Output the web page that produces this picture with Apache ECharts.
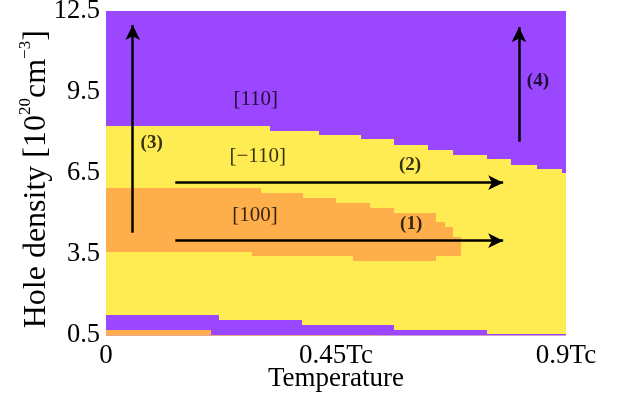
<!DOCTYPE html>
<html><head><meta charset="utf-8">
<script src="https://cdn.jsdelivr.net/npm/echarts@6/dist/echarts.min.js"></script>
<style>html,body{margin:0;padding:0;background:#fff}#c{width:622px;height:398px}</style>
</head><body><div id="c"></div>
<script>
// ---- axis ticks ----
const xTickValues = [0, 0.45, 0.9];
const xTickLabels = ['0', '0.45Tc', '0.9Tc'];
const yTickValues = [0.5, 3.5, 6.5, 9.5, 12.5];
const yTickLabels = ['0.5', '3.5', '6.5', '9.5', '12.5'];

// ---- phase boundaries (step functions; y value holds between consecutive x breakpoints) ----
// upper boundary between [-110] (yellow) and [110] (purple)
const upperX = [0, 0.32, 0.417, 0.499, 0.564, 0.63, 0.678, 0.745, 0.792, 0.843, 0.892, 0.9];
const upperY = [8.25, 8.06, 7.91, 7.76, 7.55, 7.36, 7.18, 7.03, 6.81, 6.66, 6.51];
// [100] (orange) pocket: top and bottom boundaries
const midTopX = [0, 0.303, 0.385, 0.45, 0.5165, 0.564, 0.6457, 0.663, 0.6795, 0.694];
const midTopY = [5.94, 5.76, 5.57, 5.39, 5.20, 5.02, 4.69, 4.50, 4.13];
const midBotX = [0, 0.285, 0.483, 0.6457, 0.694];
const midBotY = [3.60, 3.44, 3.26, 3.44];
// low-density purple strip top
const lowPurpleX = [0, 0.221, 0.3835, 0.564, 0.745, 0.9];
const lowPurpleY = [1.26, 1.07, 0.89, 0.70, 0.54];
// low-density orange strip top
const lowOrangeX = [0, 0.205, 0.53];
const lowOrangeY = [0.70, 0.53];

// ---- arrows ----
const arrowFromX = [0.1356, 0.1356, 0.0522, 0.808];
const arrowFromY = [4.006, 6.151, 4.30, 7.667];
const arrowToX   = [0.777, 0.777, 0.0522, 0.808];
const arrowToY   = [4.006, 6.151, 11.98, 11.90];

// ---- text labels ----
const labelNames = ['[110]', '[\u2212110]', '[100]', '(1)', '(2)', '(3)', '(4)'];
const labelX = [0.293, 0.297, 0.2915, 0.597, 0.595, 0.0894, 0.845];
const labelY = [9.246, 7.138, 4.956, 4.623, 6.805, 7.619, 9.90];

const phaseColor = { yellow: '#ffec52', purple: '#9a47ff', orange: '#ffae4c' };

function stepAt(xs, ys, x) {
  for (let i = 0; i < ys.length; i++) if (x >= xs[i] && x < xs[i + 1]) return ys[i];
  return ys[ys.length - 1];
}
const rects = [];
rects.push([0, 0.9, 0.5, 12.5, 'yellow']);
for (let i = 0; i < upperY.length; i++) rects.push([upperX[i], upperX[i + 1], upperY[i], 12.5, 'purple']);
const bx = Array.from(new Set(midTopX.concat(midBotX))).sort((a, b) => a - b);
for (let j = 0; j < bx.length - 1; j++) {
  const m = (bx[j] + bx[j + 1]) / 2;
  rects.push([bx[j], bx[j + 1], stepAt(midBotX, midBotY, m), stepAt(midTopX, midTopY, m), 'orange']);
}
for (let i = 0; i < lowPurpleY.length; i++) rects.push([lowPurpleX[i], lowPurpleX[i + 1], 0.5, lowPurpleY[i], 'purple']);
for (let i = 0; i < lowOrangeY.length; i++) rects.push([lowOrangeX[i], lowOrangeX[i + 1], 0.5, lowOrangeY[i], 'orange']);

const serif = 'Liberation Serif';
const chart = echarts.init(document.getElementById('c'), null, { renderer: 'canvas' });
chart.setOption({
  animation: false,
  backgroundColor: '#fff',
  grid: { left: 106, right: 56, top: 11, bottom: 62.5, containLabel: false, outerBoundsMode: 'none' },
  xAxis: {
    type: 'value', min: 0, max: 0.9,
    name: 'Temperature', nameLocation: 'middle', nameGap: 30, nameMoveOverlap: false,
    nameTextStyle: { fontFamily: serif, fontSize: 27, color: '#000' },
    axisLine: { show: false }, axisTick: { show: false }, splitLine: { show: false },
    axisLabel: {
      customValues: xTickValues, margin: 7,
      fontFamily: serif, fontSize: 27, color: '#000',
      formatter: v => { const i = xTickValues.findIndex(t => Math.abs(t - v) < 1e-9); return i >= 0 ? xTickLabels[i] : ''; }
    }
  },
  yAxis: {
    type: 'value', min: 0.5, max: 12.5,
    name: 'Hole density [10{sup|20}cm{sup|\u22123}]', nameLocation: 'middle', nameRotate: 90, nameGap: 50, nameMoveOverlap: false,
    nameTextStyle: {
      fontFamily: serif, fontSize: 32, color: '#000', lineHeight: 39, padding: [0, 12, 0, 0],
      rich: { sup: { fontFamily: serif, fontSize: 17, lineHeight: 17, verticalAlign: 'top', color: '#000' } }
    },
    axisLine: { show: false }, axisTick: { show: false }, splitLine: { show: false },
    axisLabel: {
      customValues: yTickValues, margin: 6,
      fontFamily: serif, fontSize: 26.5, color: '#000',
      formatter: v => { const i = yTickValues.findIndex(t => Math.abs(t - v) < 1e-9); return i >= 0 ? yTickLabels[i] : ''; }
    }
  },
  series: [
    {
      type: 'custom',
      data: rects.map(r => [r[0], r[1], r[2], r[3]]),
      clip: true,
      renderItem: (params, api) => {
        const p0 = api.coord([api.value(0), api.value(3)]);
        const p1 = api.coord([api.value(1), api.value(2)]);
        const x0 = Math.round(p0[0]), y0 = Math.round(p0[1]);
        const x1 = Math.round(p1[0]), y1 = Math.round(p1[1]);
        return { type: 'rect', shape: { x: x0, y: y0, width: x1 - x0, height: y1 - y0 },
                 style: { fill: phaseColor[rects[params.dataIndex][4]] } };
      },
      z: 1
    },
    {
      type: 'line', data: [], z: 5,
      markLine: {
        silent: true, symbol: ['none', 'arrow'], symbolSize: [11, 15],
        label: { show: false },
        lineStyle: { color: '#000', width: 2.5, type: 'solid' },
        data: arrowFromX.map((x, i) => [{ coord: [x, arrowFromY[i]] }, { coord: [arrowToX[i], arrowToY[i]] }])
      }
    },
    {
      type: 'scatter', symbolSize: 0, z: 6, silent: true,
      data: labelNames.map((n, i) => ({
        value: [labelX[i], labelY[i]], name: n,
        label: n.charAt(0) === '('
          ? { fontWeight: 'bold', fontSize: 19 }
          : { fontWeight: 'normal', fontSize: 21 }
      })),
      label: { show: true, position: 'inside', formatter: p => p.name, fontFamily: serif, color: '#000' }
    }
  ]
});
</script></body></html>
